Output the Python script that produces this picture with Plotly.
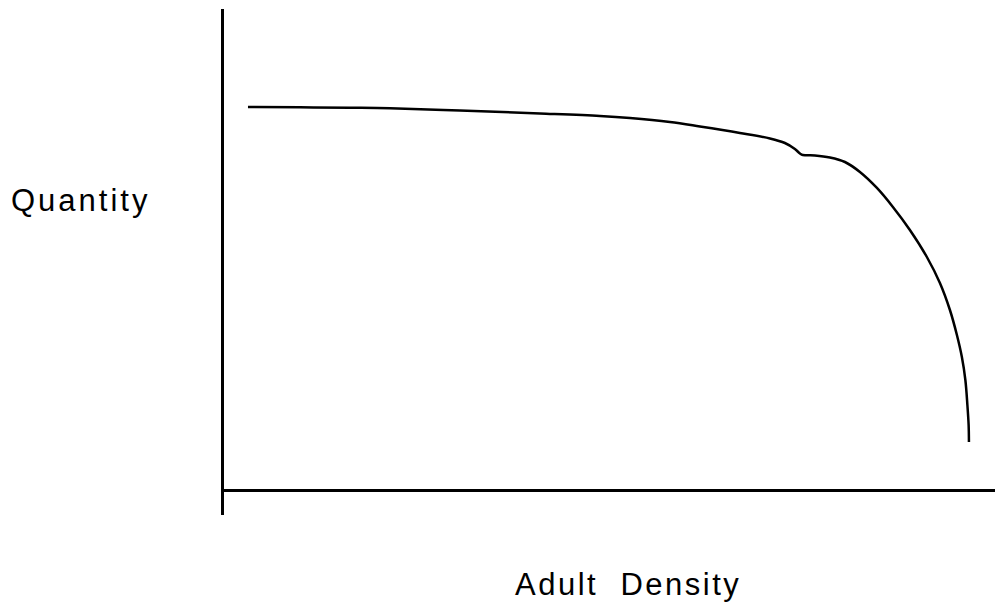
import plotly.graph_objects as go

# curve: adult density vs quantity (arbitrary units)
density = [3.09, 9.79, 16.24, 21.39, 30.41, 40.72, 48.45, 52.32, 57.47, 61.34,
           66.49, 70.36, 72.29, 73.58, 74.23, 74.61, 76.16, 78.09, 80.03, 81.96,
           84.15, 86.21, 88.40, 90.59, 92.27, 93.56, 94.46, 95.10, 95.55, 95.81,
           95.97, 96.01]
quantity = [79.79, 79.73, 79.63, 79.52, 79.06, 78.44, 77.92, 77.50, 76.67, 75.73,
            74.38, 73.23, 72.29, 71.04, 70.10, 69.79, 69.69, 69.27, 68.33, 66.25,
            62.92, 58.96, 54.17, 48.54, 43.13, 37.50, 32.29, 27.71, 22.92, 17.71,
            13.54, 10.00]

x_title = "Adult\u00a0\u00a0Density"
y_title = "Quantity"

fig = go.Figure()
fig.add_trace(go.Scatter(
    x=density, y=quantity, mode="lines",
    line=dict(color="black", width=2.5, shape="spline", smoothing=1.0),
    hoverinfo="skip", showlegend=False,
))

fig.update_xaxes(range=[0, 100.4], showgrid=False, zeroline=False, showline=False,
                 showticklabels=False, ticks="")
fig.update_yaxes(range=[-5.2, 100.2], showgrid=False, showticklabels=False, ticks="",
                 showline=True, linecolor="black", linewidth=3,
                 zeroline=True, zerolinecolor="black", zerolinewidth=3)

font = dict(family="Liberation Sans, Arial, sans-serif", size=31, color="black")
fig.add_annotation(text=f'<span style="letter-spacing:3px">{y_title}</span>',
                   xref="paper", yref="paper", x=-0.1836, y=0.6206,
                   showarrow=False, font=font, xanchor="center", yanchor="middle")
fig.add_annotation(text=f'<span style="letter-spacing:2.5px">{x_title}</span>',
                   xref="paper", yref="paper", x=0.518, y=-0.1364,
                   showarrow=False, font=font, xanchor="center", yanchor="middle")

# page body has an 8px margin, so the figure fills the rest of the window
fig.update_layout(
    width=995, height=594,
    margin=dict(l=216, r=0, t=1, b=87),
    plot_bgcolor="white", paper_bgcolor="white",
)

fig.write_html("out.html")
